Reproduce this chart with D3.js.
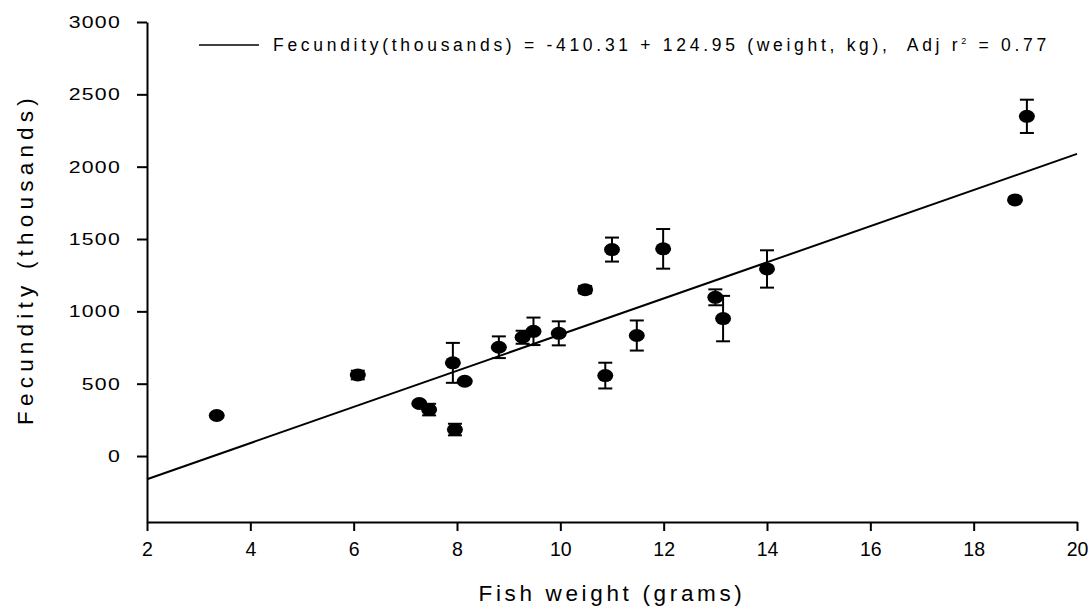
<!DOCTYPE html>
<html><head><meta charset="utf-8">
<script src="https://cdn.jsdelivr.net/npm/d3@7"></script>
<style>
body{margin:0;background:#fff;}
text{font-family:"Liberation Sans",Arial,sans-serif;fill:#000;white-space:pre;}
</style></head>
<body><svg id="c" width="1091" height="608"></svg>
<script>
const weights = [3.35, 6.08, 7.27, 7.46, 7.92, 7.96, 8.15, 8.81, 9.27, 9.48, 9.97, 10.48, 10.87, 11.0, 11.48, 11.99, 13.0, 13.15, 14.0, 18.8, 19.03];
const fecundity = [280, 560, 363, 321, 644, 183, 517, 752, 821, 862, 848, 1150, 556, 1427, 833, 1432, 1097, 950, 1293, 1770, 2348];
const errors = [0, 30, 0, 40, 138, 40, 0, 75, 45, 95, 83, 25, 89, 83, 104, 137, 55, 157, 129, 15, 115];
const xTicks = [2, 4, 6, 8, 10, 12, 14, 16, 18, 20];
const yTicks = [0, 500, 1000, 1500, 2000, 2500, 3000];
const intercept = -410.31, slope = 124.95;
const legendLabel = "Fecundity(thousands) = -410.31 + 124.95 (weight, kg),  Adj r";

const svg = d3.select("#c");
const x = d3.scaleLinear().domain([2, 20]).range([147, 1077]);
const y = d3.scaleLinear().domain([-456, 3000]).range([522, 22]);

function stretch(sel, sx, ax, ay) {
  sel.attr("transform", `translate(${ax},${ay}) scale(${sx},1) translate(${-ax},${-ay})`);
}
function spaceTo(sel, target) {
  const n = sel.text().length;
  const w = sel.node().getComputedTextLength();
  sel.style("letter-spacing", ((target - w) / n) + "px");
}

// axes
const ya = svg.append("g").attr("transform", "translate(147,0)")
  .call(d3.axisLeft(y).tickValues(yTicks).tickFormat(d3.format("d")).tickSize(10).tickPadding(16).tickSizeOuter(0));
const xa = svg.append("g").attr("transform", "translate(0,522)")
  .call(d3.axisBottom(x).tickValues(xTicks).tickFormat(d3.format("d")).tickSize(9).tickPadding(11).tickSizeOuter(0));
[ya, xa].forEach(g => {
  g.selectAll("path,line").attr("stroke", "#000").attr("stroke-width", 2);
  g.selectAll("text").style("font-family", '"Liberation Sans",Arial,sans-serif');
});
ya.selectAll("text").attr("font-size", 17).style("letter-spacing", "1px").each(function() {
  stretch(d3.select(this), 1.25, -26, 0);
});
xa.selectAll("text").attr("font-size", 19.5);

// regression line
svg.append("line")
  .attr("x1", x(2)).attr("y1", y(intercept + slope * 2))
  .attr("x2", x(20)).attr("y2", y(intercept + slope * 20))
  .attr("stroke", "#000").attr("stroke-width", 2);

const data = weights.map((w, i) => ({w, f: fecundity[i], e: errors[i]}));
const g = svg.append("g");
data.filter(d => d.e > 0).forEach(d => {
  const cx = x(d.w);
  g.append("line").attr("x1", cx).attr("x2", cx).attr("y1", y(d.f - d.e)).attr("y2", y(d.f + d.e))
    .attr("stroke", "#000").attr("stroke-width", 2);
  [d.f - d.e, d.f + d.e].forEach(v => g.append("line").attr("x1", cx - 7).attr("x2", cx + 7)
    .attr("y1", y(v)).attr("y2", y(v)).attr("stroke", "#000").attr("stroke-width", 2));
});
g.selectAll("ellipse").data(data).join("ellipse")
  .attr("cx", d => x(d.w)).attr("cy", d => y(d.f)).attr("rx", 8).attr("ry", 6.5).attr("fill", "#000");

// legend
svg.append("line").attr("x1", 199).attr("x2", 259).attr("y1", 45).attr("y2", 45)
  .attr("stroke", "#000").attr("stroke-width", 1.5);
const lt = svg.append("text").attr("x", 273).attr("y", 51).attr("font-size", 17.5);
lt.append("tspan").text(legendLabel);
lt.append("tspan").attr("font-size", 9).attr("dy", -7).text("2");
lt.append("tspan").attr("dy", 7).text(" = 0.77");
{
  const n = lt.text().length;
  const w = lt.node().getComputedTextLength();
  lt.style("letter-spacing", ((777 - w) / n) + "px");
}

// axis titles
const xt = svg.append("text").attr("x", 612).attr("y", 601).attr("text-anchor", "middle")
  .attr("font-size", 22.5).text("Fish weight (grams)");
spaceTo(xt, 267);
const ytl = svg.append("text").attr("transform", "translate(33,259) rotate(-90)")
  .attr("text-anchor", "middle").attr("font-size", 22.5).text("Fecundity (thousands)");
spaceTo(ytl, 332);
</script></body></html>
